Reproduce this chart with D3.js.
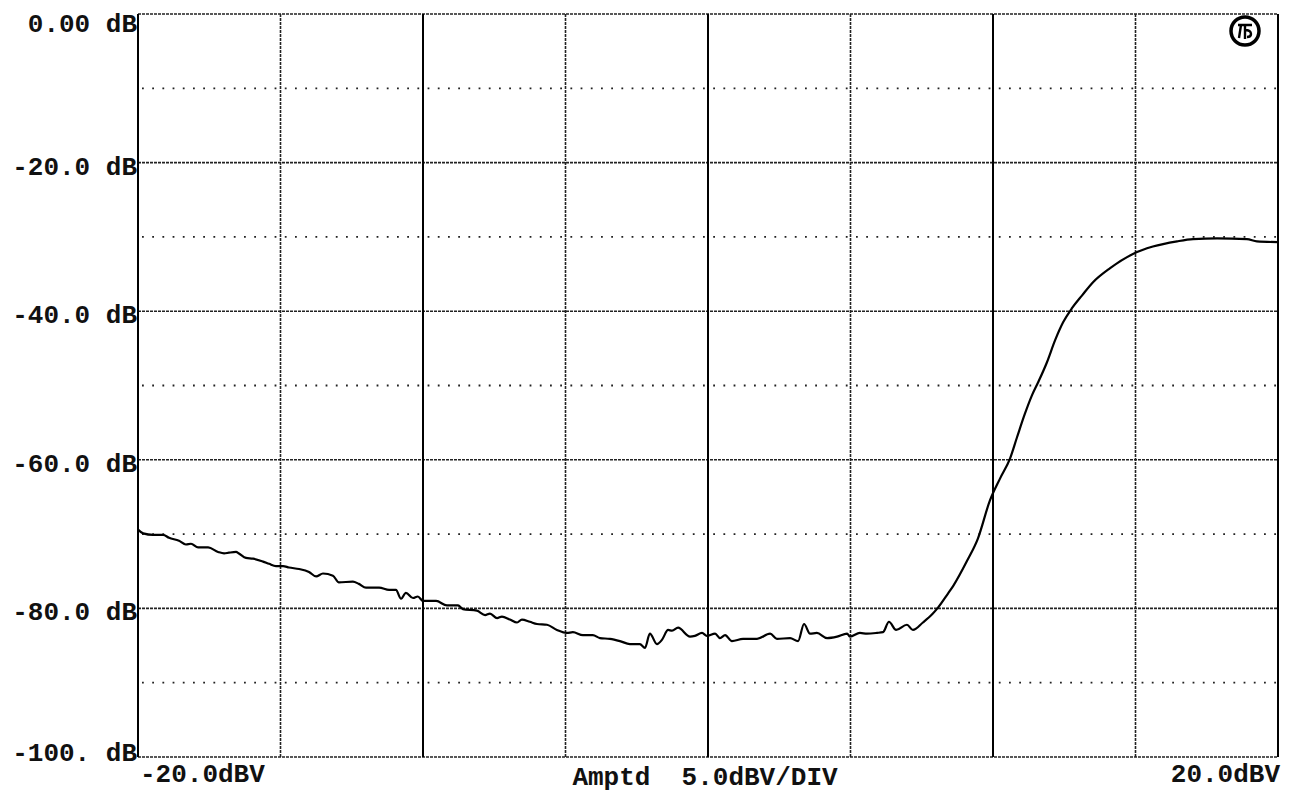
<!DOCTYPE html>
<html>
<head>
<meta charset="utf-8">
<script src="https://cdn.jsdelivr.net/npm/d3@7"></script>
<style>
  body { margin: 0; background: #fff; }
  svg text { font-family: "Courier New", "Liberation Mono", monospace; font-weight: bold; fill: #111; }
</style>
</head>
<body>
<div id="container"></div>
<script>
// sweep: input amplitude (dBV) vs measured level (dB)
const ampDbv = [
  -20.00, -19.82, -19.47, -19.12, -18.91, -18.56, -18.32, -18.14, -17.89, -17.54,
  -17.19, -16.98, -16.81, -16.56, -16.46, -16.21, -15.96, -15.61, -15.40, -15.16,
  -14.91, -14.70, -14.35, -14.00, -13.75, -13.51, -13.16, -12.95, -12.46, -12.25,
  -12.00, -11.54, -11.19, -10.95, -10.77, -10.60, -10.35, -10.18, -10.00, -9.54,
  -9.16, -8.77, -8.60, -8.11, -7.82, -7.65, -7.40, -7.23, -6.95, -6.70,
  -6.53, -6.25, -6.00, -5.65, -5.30, -4.95, -4.74, -4.39, -4.04, -3.79,
  -3.44, -3.09, -2.74, -2.39, -2.21, -2.04, -1.79, -1.61, -1.40, -1.26,
  -1.05, -0.63, -0.46, -0.21, -0.04, 0.25, 0.42, 0.60, 0.84, 1.23,
  1.72, 2.18, 2.42, 2.88, 3.16, 3.37, 3.58, 3.82, 4.18, 4.53,
  4.88, 4.98, 5.33, 5.58, 5.93, 6.14, 6.35, 6.60, 6.98, 7.19,
  7.54, 7.89, 8.07, 8.42, 8.60, 9.09, 9.47, 9.89, 10.25, 10.60,
  10.84, 11.12, 11.37, 11.58, 11.89, 12.18, 12.46, 12.77, 13.12, 13.51,
  14.11, 14.91, 15.61, 16.46, 17.02, 17.86, 18.91, 19.26, 20.00
];
const levelDb = [
  -69.4, -69.9, -70.1, -70.1, -70.5, -70.9, -71.4, -71.3, -71.8, -71.8,
  -72.4, -72.6, -72.5, -72.4, -72.6, -73.2, -73.3, -73.7, -74.0, -74.3,
  -74.3, -74.5, -74.7, -75.1, -75.7, -75.3, -75.6, -76.5, -76.4, -76.7,
  -77.2, -77.2, -77.5, -77.5, -78.7, -77.9, -78.6, -78.4, -79.0, -79.0,
  -79.6, -79.6, -80.1, -80.3, -80.9, -80.7, -81.3, -81.1, -81.5, -81.9,
  -81.5, -81.8, -82.1, -82.2, -82.9, -83.3, -83.2, -83.6, -83.6, -84.0,
  -84.1, -84.4, -84.8, -84.8, -85.3, -83.4, -84.8, -84.2, -82.9, -83.0,
  -82.6, -83.8, -83.7, -83.3, -83.7, -83.4, -84.0, -83.6, -84.4, -84.1,
  -84.1, -83.4, -84.1, -84.0, -84.4, -82.1, -83.4, -83.3, -84.0, -83.8,
  -83.4, -83.8, -83.3, -83.4, -83.3, -83.2, -81.8, -82.9, -82.2, -82.9,
  -81.9, -80.7, -79.9, -78.0, -77.0, -73.6, -70.6, -65.5, -62.5, -59.8,
  -57.0, -53.8, -51.3, -49.6, -46.9, -43.9, -41.5, -39.6, -37.9, -36.1,
  -34.2, -32.3, -31.3, -30.6, -30.3, -30.2, -30.3, -30.6, -30.7
];

const xDivs = [-20, -15, -10, -5, 0, 5, 10, 15, 20];
const solidXDivs = [-20, -10, 0, 10, 20];
const yMajor = [0, -20, -40, -60, -80, -100];
const yMinor = [-10, -30, -50, -70, -90];
const yTickLabels = ['0.00 dB', '-20.0 dB', '-40.0 dB', '-60.0 dB', '-80.0 dB', '-100. dB'];
const xLabelLeft = '-20.0dBV';
const xLabelRight = '20.0dBV';
const xLabelMid = 'Amptd  5.0dBV/DIV';

const W = 1293, H = 794;
const margin = { top: 14, right: 15, bottom: 37, left: 138 };

const svg = d3.select('#container').append('svg')
  .attr('width', W)
  .attr('height', H);

const x = d3.scaleLinear().domain([-20, 20]).range([margin.left, W - margin.right]);
const y = d3.scaleLinear().domain([0, -100]).range([margin.top, H - margin.bottom]);

const grid = svg.append('g');

// sparse dotted 10 dB lines
grid.selectAll('line.minor')
  .data(yMinor)
  .enter().append('line')
  .attr('x1', x(-20) + 4).attr('x2', x(20) - 2)
  .attr('y1', d => y(d)).attr('y2', d => y(d))
  .attr('stroke', '#222')
  .attr('stroke-width', 1.8)
  .attr('stroke-dasharray', '1.8,8.4');

// dense dotted 20 dB lines
grid.selectAll('line.major')
  .data(yMajor)
  .enter().append('line')
  .attr('x1', x(-20)).attr('x2', x(20))
  .attr('y1', d => y(d)).attr('y2', d => y(d))
  .attr('stroke', '#222')
  .attr('stroke-width', 1.6)
  .attr('stroke-dasharray', '3,1');

// vertical divisions
const isSolid = d => solidXDivs.includes(d);
grid.selectAll('line.vert')
  .data(xDivs)
  .enter().append('line')
  .attr('x1', d => x(d)).attr('x2', d => x(d))
  .attr('y1', y(0)).attr('y2', y(-100))
  .attr('stroke', d => isSolid(d) ? '#000' : '#222')
  .attr('stroke-width', d => isSolid(d) ? 2 : 1.6)
  .attr('stroke-dasharray', d => isSolid(d) ? null : '3,1');

// y labels
const yOffset = d => d === 0 ? 18 : (d === -100 ? 4 : 12);
svg.append('g').selectAll('text')
  .data(yMajor)
  .enter().append('text')
  .attr('x', x(-20) - 1)
  .attr('y', d => y(d) + yOffset(d))
  .attr('text-anchor', 'end')
  .style('font-size', '26px')
  .text((d, i) => yTickLabels[i]);

// x labels
svg.append('text')
  .attr('x', x(-20) + 2).attr('y', 782)
  .style('font-size', '26px')
  .text(xLabelLeft);
svg.append('text')
  .attr('x', x(20) + 2).attr('y', 782)
  .attr('text-anchor', 'end')
  .style('font-size', '26px')
  .text(xLabelRight);
svg.append('text')
  .attr('x', x(0) - 3).attr('y', 785)
  .attr('text-anchor', 'middle')
  .attr('xml:space', 'preserve')
  .style('white-space', 'pre')
  .style('font-size', '26px')
  .text(xLabelMid);

// logo, top right
const logo = svg.append('g').attr('transform', 'translate(1245, 31)');
logo.append('circle').attr('r', 14).attr('fill', 'none').attr('stroke', '#000').attr('stroke-width', 3.5);
logo.append('path')
  .attr('d', 'M-7,-6 L7,-6 M-4,-6 L-6,7 M0,-6 L0,8 M0,-1 Q6,-1 6,3 Q6,6 2,6')
  .attr('fill', 'none').attr('stroke', '#000').attr('stroke-width', 2.4);

// trace
const line = d3.line()
  .x((d, i) => x(ampDbv[i]))
  .y(d => y(d))
  .curve(d3.curveMonotoneX);

svg.append('path')
  .datum(levelDb)
  .attr('fill', 'none')
  .attr('stroke', '#000')
  .attr('stroke-width', 2.2)
  .attr('stroke-linejoin', 'round')
  .attr('d', line);
</script>
</body>
</html>
